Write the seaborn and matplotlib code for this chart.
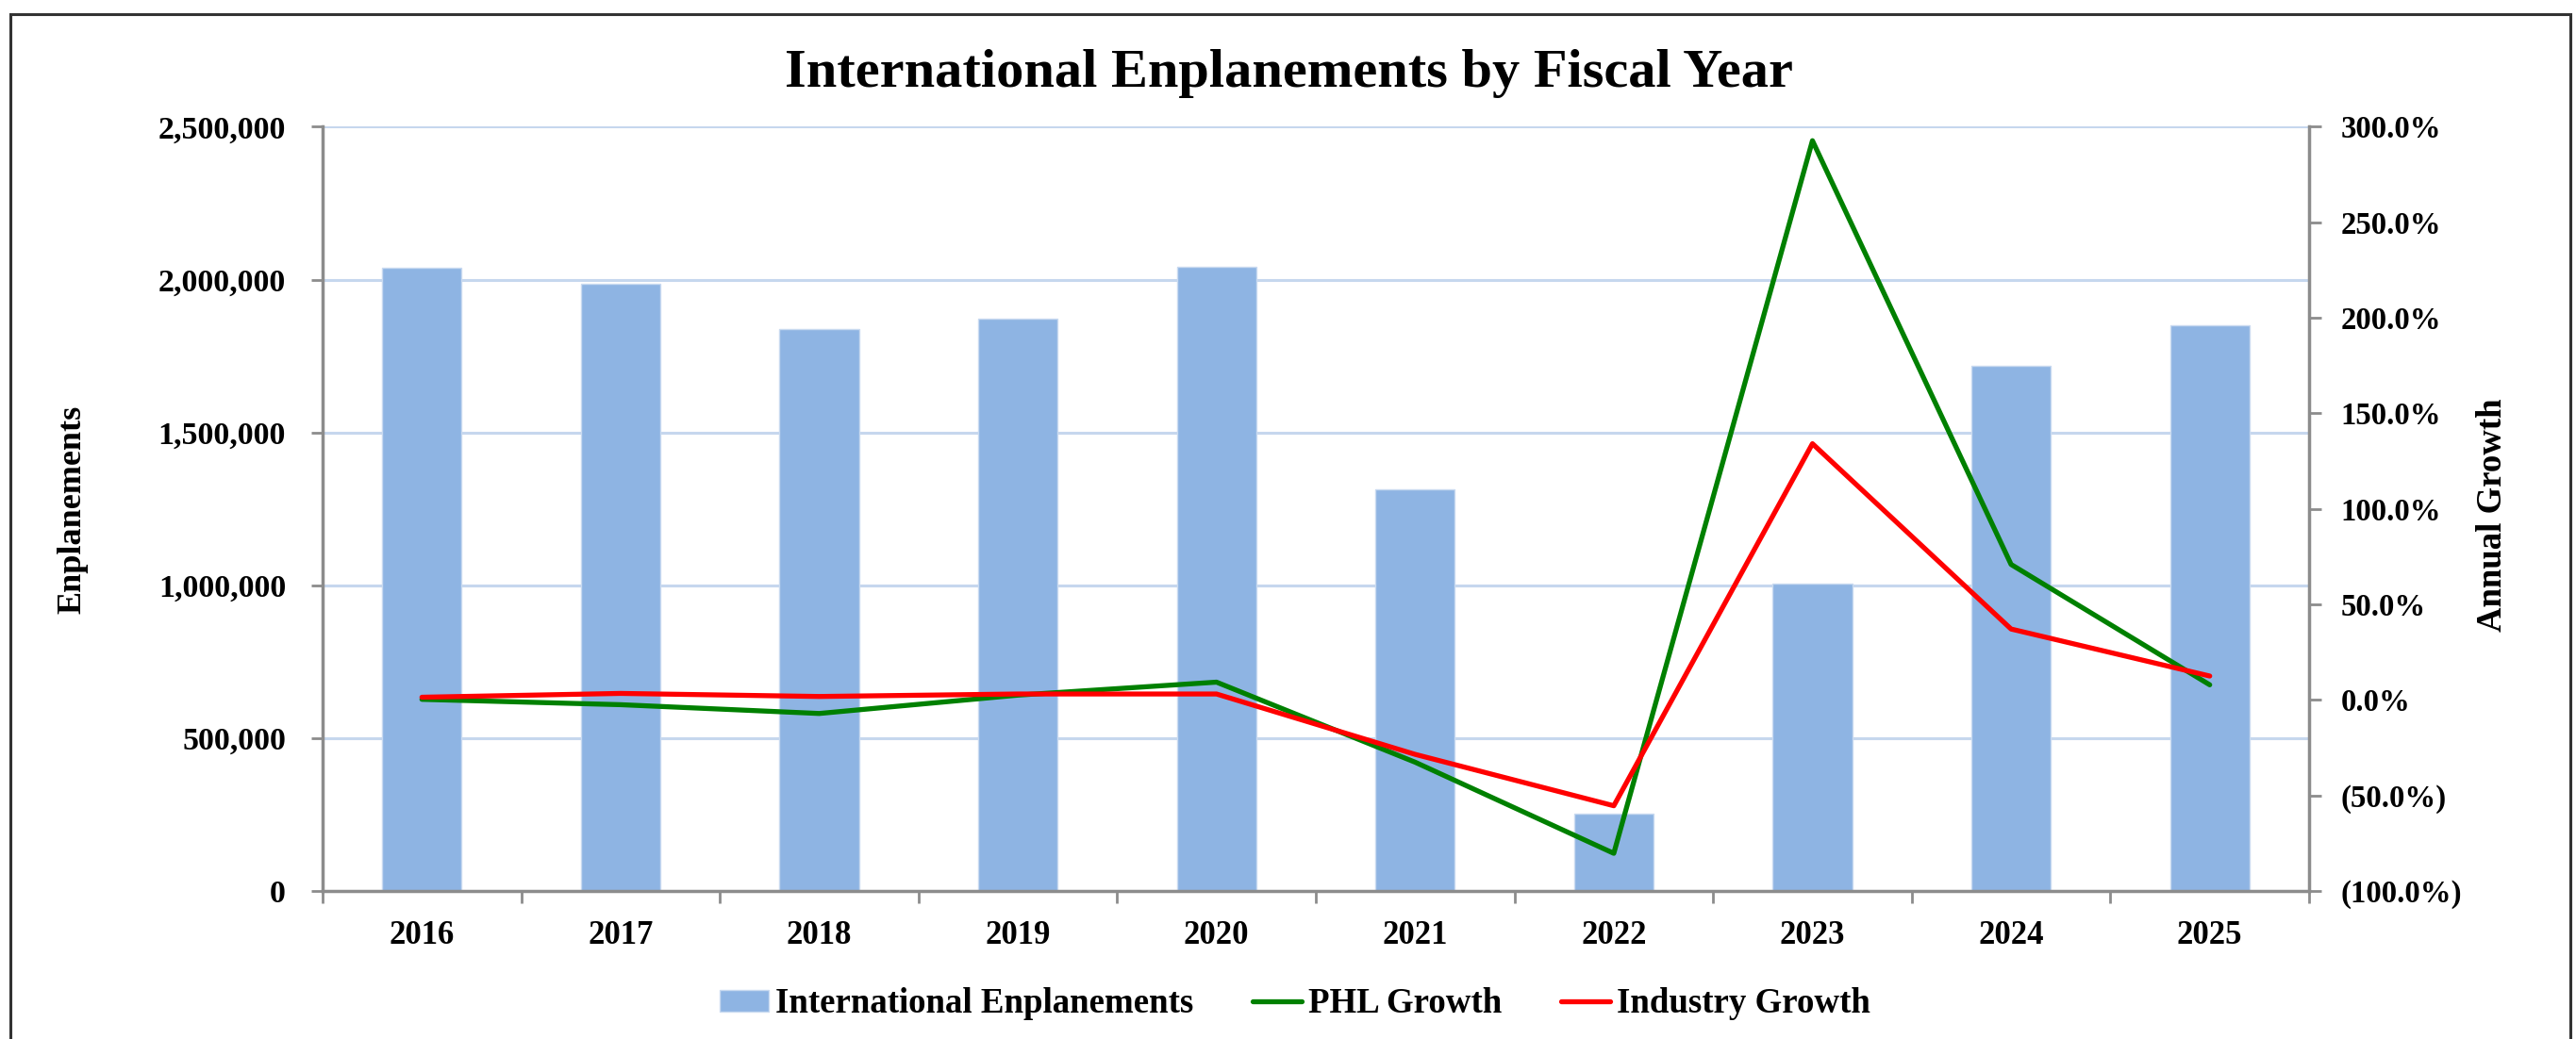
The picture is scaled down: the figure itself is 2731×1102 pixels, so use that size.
import numpy as np
import pandas as pd
import matplotlib
matplotlib.use("Agg")
import matplotlib.pyplot as plt
from matplotlib.ticker import FixedLocator, FuncFormatter
from matplotlib.patches import Rectangle
import seaborn as sns

# ---- data ----
years = ["2016", "2017", "2018", "2019", "2020", "2021", "2022", "2023", "2024", "2025"]
enplanements = [2040000, 1986000, 1838000, 1872000, 2042000, 1315000, 254000, 1005000, 1718000, 1851000]
phl_growth = [0.3, -2.5, -7.1, 2.5, 9.3, -32.6, -80.3, 292.7, 70.9, 7.9]
industry_growth = [1.4, 3.4, 1.8, 3.1, 3.1, -28.5, -55.4, 134.1, 37.1, 12.5]
left_ticks = [0, 500000, 1000000, 1500000, 2000000, 2500000]
right_ticks = [-100, -50, 0, 50, 100, 150, 200, 250, 300]

title = "International Enplanements by Fiscal Year"
bar_label = "International Enplanements"
phl_label = "PHL Growth"
ind_label = "Industry Growth"

sns.set_theme(style="white")
plt.rcParams["font.family"] = ["Liberation Serif", "DejaVu Serif"]
plt.rcParams["font.weight"] = "bold"
plt.rcParams["text.color"] = "black"
plt.rcParams["axes.labelcolor"] = "black"

W, H = 2731, 1102
fig = plt.figure(figsize=(W / 100, H / 100), dpi=100)
fig.patch.set_facecolor("white")

ax = fig.add_axes([342 / W, 1 - 945 / H, (2448 - 342) / W, (945 - 134.4) / H])
ax2 = ax.twinx()

df = pd.DataFrame({"year": years, "value": enplanements})
sns.barplot(data=df, x="year", y="value", ax=ax, color="#8EB4E3", width=0.4,
            saturation=1, edgecolor="#C9DAF0", linewidth=1, label=bar_label, zorder=2)

pos = np.arange(len(years))
sns.lineplot(x=pos, y=phl_growth, ax=ax2, color="#008000", lw=3.8, label=phl_label, zorder=3)
sns.lineplot(x=pos, y=industry_growth, ax=ax2, color="#FF0000", lw=3.8, label=ind_label, zorder=4)

grid_c = "#C6D7EE"
spine_c = "#8C8C8C"

ax.set_xlim(-0.5, len(years) - 0.5)
ax.set_ylim(0, 2500000)
ax2.set_ylim(-100, 300)
ax.yaxis.set_major_locator(FixedLocator(left_ticks))
ax.yaxis.set_major_formatter(FuncFormatter(lambda v, p: f"{v:,.0f}"))
ax2.yaxis.set_major_locator(FixedLocator(right_ticks))
ax2.yaxis.set_major_formatter(FuncFormatter(
    lambda v, p: f"({abs(v):.1f}%)" if v < 0 else f"{v:.1f}%"))

ax.set_xticks(pos)
ax.set_xticklabels(years)
ax.xaxis.set_minor_locator(FixedLocator(np.arange(-0.5, len(years), 1.0)))

for y in left_ticks[1:]:
    ax.axhline(y, color=grid_c, lw=2.2, zorder=1)

for a in (ax, ax2):
    for s in a.spines.values():
        s.set_visible(False)
ax.spines["left"].set_visible(True)
ax.spines["bottom"].set_visible(True)
ax2.spines["right"].set_visible(True)
for s in (ax.spines["left"], ax.spines["bottom"], ax2.spines["right"]):
    s.set_color(spine_c)
    s.set_linewidth(2.5)
ax.set_facecolor("none")
ax2.set_facecolor("none")

ax.tick_params(axis="y", which="major", direction="out", length=9, width=2, color=spine_c,
               labelcolor="black", labelsize=24.5, pad=19, left=True)
ax.tick_params(axis="x", which="major", length=0, labelsize=25, pad=22, labelcolor="black")
ax.tick_params(axis="x", which="minor", direction="out", length=9, width=2, color=spine_c, bottom=True)
ax2.tick_params(axis="y", direction="out", length=9, width=2, color=spine_c,
                labelcolor="black", labelsize=23.6, pad=15, right=True)
for lab in ax.get_xticklabels() + ax.get_yticklabels() + ax2.get_yticklabels():
    lab.set_fontweight("bold")

ax.set_xlabel("")
ax.set_ylabel("")
ax2.set_ylabel("")
fig.text(77 / W, 1 - 540 / H, "Enplanements", rotation=90, ha="center", va="center",
         fontsize=26, fontweight="bold", color="black")
fig.text(2643 / W, 1 - 546 / H, "Annual Growth", rotation=90, ha="center", va="center",
         fontsize=26.5, fontweight="bold", color="black")

fig.text(0.5002, 1 - 92 / H, title, ha="center", va="baseline", fontsize=42,
         fontweight="bold", color="black")

# legend
h1, l1 = ax.get_legend_handles_labels()
h2, l2 = ax2.get_legend_handles_labels()
if ax.get_legend():
    ax.get_legend().remove()
if ax2.get_legend():
    ax2.get_legend().remove()
leg = fig.legend(h1 + h2, l1 + l2, loc="center", bbox_to_anchor=(1373 / W, 1 - 1065 / H),
                 ncol=3, frameon=False, handlelength=1.4, handleheight=0.55,
                 handletextpad=0.2, columnspacing=1.7, prop={"weight": "bold", "size": 26.6})
for t in leg.get_texts():
    t.set_color("black")

# outer frame
fig.patches.append(Rectangle((11 / W, -0.05), (2725 - 11) / W, 1.05 - 15 / H,
                             transform=fig.transFigure, fill=False, edgecolor="#333333",
                             linewidth=2.2, zorder=0))

fig.savefig("out.png", dpi=100, facecolor="white")
